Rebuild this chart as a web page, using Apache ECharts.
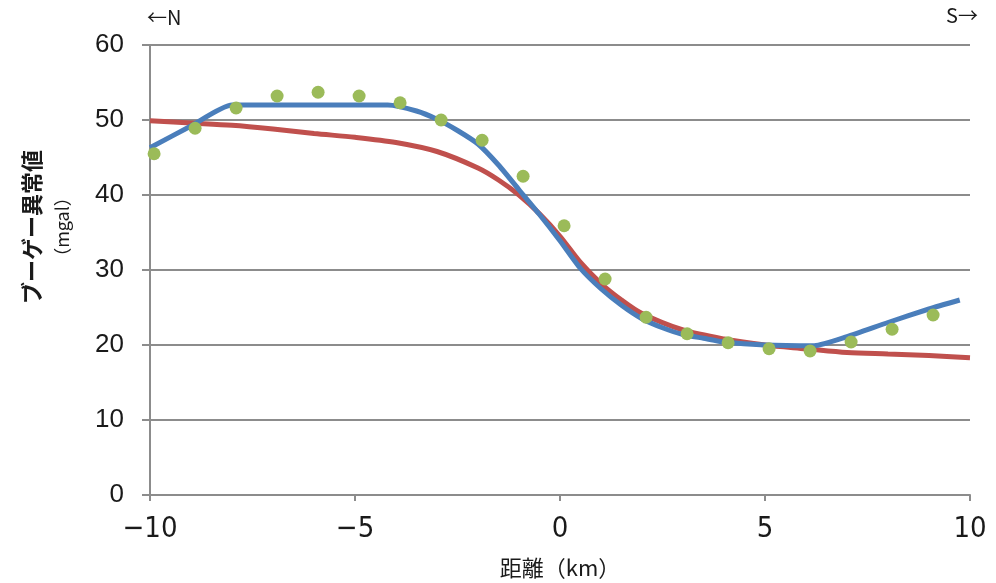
<!DOCTYPE html>
<html>
<head>
<meta charset="utf-8">
<script src="https://cdn.jsdelivr.net/npm/echarts@6/dist/echarts.min.js"></script>
<style>html,body{margin:0;padding:0;background:#fff}#c{width:996px;height:583px}</style>
</head>
<body>
<div id="c"></div>
<script>
// observed points (green)
const obsX = [-9.9,-8.9,-7.9,-6.9,-5.9,-4.9,-3.9,-2.9,-1.9,-0.9,0.1,1.1,2.1,3.1,4.1,5.1,6.1,7.1,8.1,9.1];
const obsY = [45.5,48.9,51.6,53.2,53.7,53.2,52.3,50.0,47.3,42.5,35.9,28.8,23.7,21.5,20.3,19.5,19.2,20.4,22.1,24.0];
// model 1 (blue)
const blueX = [-10,-9,-8,-4.2,-3.5,-3,-2.5,-2,-1.5,-1,-0.5,0,0.5,1,1.5,2,2.5,3,3.5,4,5,6.2,7,8,9,9.75];
const blueY = [46.3,49.2,52.0,52.0,51.2,50.1,48.6,46.8,44.0,40.7,37.4,33.9,30.2,27.5,25.3,23.5,22.3,21.4,20.9,20.4,20.0,19.9,21.1,23.0,24.8,26.0];
// model 2 (red)
const redX = [-10,-9,-8,-7,-6,-5,-4,-3,-2,-1.5,-1,-0.5,0,0.5,1,1.5,2,3,4,5,6,7,8,9,10];
const redY = [49.9,49.6,49.3,48.8,48.2,47.7,47.0,45.8,43.6,42.0,40.0,37.5,34.5,31.0,28.2,26.0,24.2,22.0,20.8,20.0,19.5,19.0,18.8,18.6,18.3];
const xTicks = [-10,-5,0,5,10];
const yTicks = [0,10,20,30,40,50,60];

const zip = (a,b) => a.map((v,i)=>[v,b[i]]);
const chart = echarts.init(document.getElementById('c'));
const numFont = '"Liberation Sans", Arial, sans-serif';
const narrowFont = '"Liberation Sans Narrow", "DejaVu Sans Condensed", "Liberation Sans", sans-serif';
const jpFont = '"Noto Sans CJK JP", sans-serif';
chart.setOption({
  animation:false,
  backgroundColor:'#fff',
  grid:{left:150,right:26,top:45,bottom:88},
  xAxis:{
    type:'value',min:xTicks[0],max:xTicks[xTicks.length-1],interval:5,
    axisLine:{show:true,onZero:false,lineStyle:{color:'#8c8c8c',width:2}},
    axisTick:{show:true,length:6,lineStyle:{color:'#8c8c8c',width:2}},
    splitLine:{show:false},
    axisLabel:{margin:20,fontSize:29,color:'#1a1a1a',fontFamily:narrowFont,
      formatter:v=>String(v).replace('-','\u2212')}
  },
  yAxis:{
    type:'value',min:yTicks[0],max:yTicks[yTicks.length-1],interval:10,
    axisLine:{show:true,onZero:false,lineStyle:{color:'#8c8c8c',width:2}},
    axisTick:{show:true,length:8,lineStyle:{color:'#8c8c8c',width:2}},
    splitLine:{show:true,lineStyle:{color:'#8c8c8c',width:2}},
    axisLabel:{margin:26,fontSize:26,color:'#1a1a1a',fontFamily:numFont}
  },
  graphic:[
    {type:'text',x:147,y:17,style:{text:'\u2190N',fontSize:20,fill:'#1a1a1a',fontFamily:jpFont,verticalAlign:'middle'}},
    {type:'text',x:978,y:15,style:{text:'S\u2192',fontSize:20,fill:'#1a1a1a',fontFamily:jpFont,align:'right',verticalAlign:'middle'}},
    {type:'text',x:560,y:568,style:{text:'距離（km）',fontSize:22,fill:'#1a1a1a',fontFamily:jpFont,align:'center',verticalAlign:'middle'}},
    {type:'text',x:32,y:227,rotation:Math.PI/2,style:{text:'ブーゲー異常値',fontSize:22,fontWeight:'bold',fill:'#1a1a1a',fontFamily:jpFont,align:'center',verticalAlign:'middle'}},
    {type:'text',x:62,y:227,rotation:Math.PI/2,style:{text:'（mgal）',fontSize:18,fill:'#1a1a1a',fontFamily:jpFont,align:'center',verticalAlign:'middle'}}
  ],
  series:[
    {type:'line',data:zip(redX,redY),smooth:0.3,showSymbol:false,lineStyle:{color:'#c0504d',width:5},z:2},
    {type:'line',data:zip(blueX,blueY),smooth:0.2,showSymbol:false,lineStyle:{color:'#4a7ebb',width:5},z:3},
    {type:'scatter',data:zip(obsX,obsY),symbolSize:13,itemStyle:{color:'#9bbb59',opacity:1},z:4}
  ]
});
</script>
</body>
</html>
